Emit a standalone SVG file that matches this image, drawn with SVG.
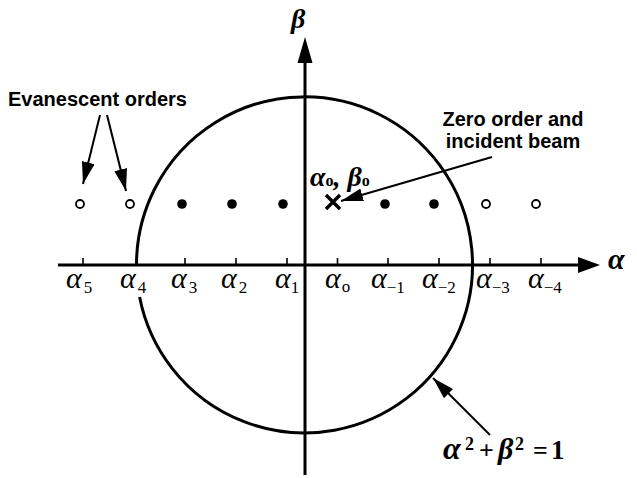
<svg xmlns="http://www.w3.org/2000/svg" width="637" height="478" viewBox="0 0 637 478">
<style>
.ax{stroke:#000;stroke-width:3;fill:none}
.tk{stroke:#000;stroke-width:1.6}
.ln{stroke:#000;stroke-width:2;fill:none}
.lbl{font-family:"Liberation Sans",Arial,sans-serif;font-weight:bold;font-size:20px;fill:#000}
.al{font-family:"Liberation Serif","Times New Roman",serif;font-style:italic;font-size:30px;fill:#000}
.sub{font-family:"Liberation Serif","Times New Roman",serif;font-style:normal;font-size:17px}
.math{font-family:"Liberation Serif","Times New Roman",serif;fill:#000}
.dot{fill:#000}
.open{fill:#fff;stroke:#000;stroke-width:1.8}
</style>
<defs>
<marker id="ah" viewBox="0 0 22 13" refX="22" refY="6.5" markerWidth="22" markerHeight="13" markerUnits="userSpaceOnUse" orient="auto">
<path d="M0,0 L22,6.5 L0,13 z" fill="#000"/>
</marker>
</defs>
<rect width="637" height="478" fill="#fff"/>
<g id="axes">
<line class="ax" x1="58" y1="265" x2="582" y2="265"/>
<path d="M578,257 L600,265 L578,273 z" fill="#000"/>
<line class="ax" x1="305" y1="475" x2="305" y2="60"/>
<path d="M297.5,63 L305,37 L312.5,63 z" fill="#000"/>
<g id="ticks">
<line class="tk" x1="83" y1="258" x2="83" y2="265"/>
<line class="tk" x1="185" y1="258" x2="185" y2="265"/>
<line class="tk" x1="236" y1="258" x2="236" y2="265"/>
<line class="tk" x1="287" y1="258" x2="287" y2="265"/>
<line class="tk" x1="337.5" y1="258" x2="337.5" y2="265"/>
<line class="tk" x1="388" y1="258" x2="388" y2="265"/>
<line class="tk" x1="439" y1="258" x2="439" y2="265"/>
<line class="tk" x1="490" y1="258" x2="490" y2="265"/>
<line class="tk" x1="541" y1="258" x2="541" y2="265"/>
</g>
<text class="math" x="291" y="28" font-size="28" font-style="italic" font-weight="bold">β</text>
<text class="math" x="608" y="269" font-size="30" font-style="italic" font-weight="bold">α</text>
</g>
<g id="circle">
<path class="ax" d="M136.5,265 A168,168 0 1 1 139.6,297"/>
</g>
<g id="axis-labels">
<text class="al" x="66" y="288">α<tspan class="sub" dx="2" dy="5">5</tspan></text>
<text class="al" x="120" y="288">α<tspan class="sub" dx="2" dy="5">4</tspan></text>
<text class="al" x="171" y="288">α<tspan class="sub" dx="2" dy="5">3</tspan></text>
<text class="al" x="221" y="288">α<tspan class="sub" dx="2" dy="5">2</tspan></text>
<text class="al" x="275" y="288">α<tspan class="sub" dy="5">1</tspan></text>
<text class="al" x="325" y="288">α<tspan class="sub" dx="1" dy="4">o</tspan></text>
<text class="al" x="371" y="288">α<tspan class="sub" dy="5">−1</tspan></text>
<text class="al" x="422" y="288">α<tspan class="sub" dy="5">−2</tspan></text>
<text class="al" x="476" y="288">α<tspan class="sub" dy="5">−3</tspan></text>
<text class="al" x="528" y="288">α<tspan class="sub" dy="5">−4</tspan></text>
</g>
<g id="orders">
<circle class="open" cx="80" cy="204" r="4"/>
<circle class="open" cx="130" cy="204" r="4"/>
<circle class="dot" cx="182" cy="204" r="4.8"/>
<circle class="dot" cx="232" cy="204" r="4.8"/>
<circle class="dot" cx="283" cy="204" r="4.8"/>
<circle class="dot" cx="385" cy="204" r="4.8"/>
<circle class="dot" cx="434" cy="204" r="4.8"/>
<circle class="open" cx="486" cy="204" r="4"/>
<circle class="open" cx="536" cy="204" r="4"/>
</g>
<g id="zero-order">
<path d="M326,195 L340,209 M340,195 L326,209" stroke="#000" stroke-width="3.4" fill="none"/>
<text class="math" x="310" y="186" font-size="28" font-style="italic" font-weight="bold">α<tspan font-size="16" font-style="normal" font-weight="bold">o</tspan>, β<tspan font-size="16" font-style="normal" font-weight="bold">o</tspan></text>
</g>
<g id="evanescent-label">
<text class="lbl" x="8" y="106">Evanescent orders</text>
</g>
<g id="zero-label">
<text class="lbl" x="513" y="126" text-anchor="middle">Zero order and</text>
<text class="lbl" x="513" y="148" text-anchor="middle">incident beam</text>
</g>
<g id="equation">
<text class="math" x="443" y="459" font-size="32" font-style="italic" font-weight="bold">α</text>
<text class="math" x="465" y="450" font-size="18" font-weight="bold">2</text>
<text class="math" x="479" y="459" font-size="26" font-weight="bold">+</text>
<text class="math" x="498" y="459" font-size="30" font-style="italic" font-weight="bold">β</text>
<text class="math" x="515" y="450" font-size="18" font-weight="bold">2</text>
<text class="math" x="533" y="459" font-size="26" font-weight="bold">=</text>
<text class="math" x="551" y="459" font-size="27" font-weight="bold">1</text>
</g>
<g id="connectors">
<line class="ln" x1="100" y1="115" x2="83" y2="184" marker-end="url(#ah)"/>
<line class="ln" x1="107" y1="115" x2="126" y2="191" marker-end="url(#ah)"/>
<line class="ln" x1="492" y1="157" x2="341" y2="201" marker-end="url(#ah)"/>
<line class="ln" x1="490" y1="435" x2="433" y2="378" marker-end="url(#ah)"/>
</g>
</svg>
